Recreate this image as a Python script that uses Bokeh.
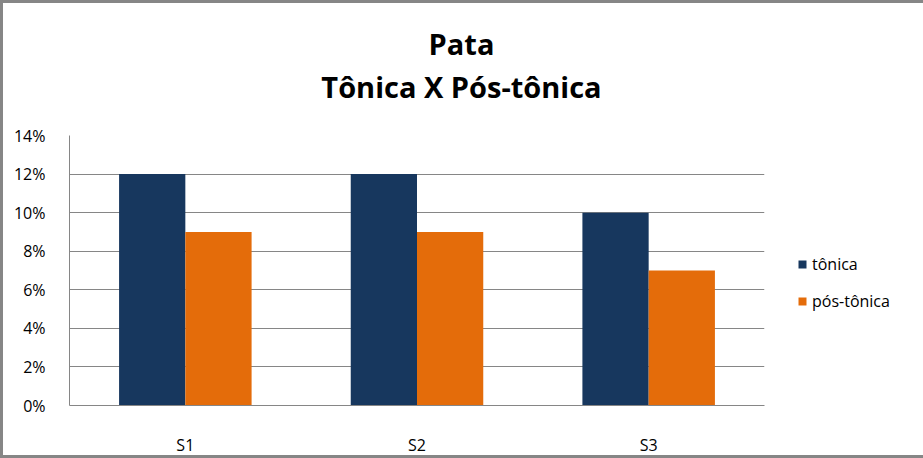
from bokeh.plotting import figure
from bokeh.layouts import column
from bokeh.models import ColumnDataSource, Legend, LegendItem, Div, NumeralTickFormatter, FixedTicker, Range1d
from bokeh.transform import dodge
from bokeh.embed import file_html
from bokeh.resources import INLINE

categories = ["S1", "S2", "S3"]
tonica = [0.12, 0.12, 0.10]
pos_tonica = [0.09, 0.09, 0.07]
series_names = ["tônica", "pós-tônica"]
y_ticks = [0, 0.02, 0.04, 0.06, 0.08, 0.10, 0.12, 0.14]
title_lines = ["Pata", "Tônica X Pós-tônica"]

FONT = "Open Sans"
TITLE_H = 110
source = ColumnDataSource(dict(cat=categories, tonica=tonica, pos=pos_tonica))

title_html = ('<div style="padding-top:22px;width:923px;text-align:center;font-family:\'Open Sans\';'
              'font-weight:bold;font-size:29px;line-height:43px;color:#000000;">'
              + "<br>".join(title_lines) + "</div>")
title = Div(text=title_html, width=923, height=TITLE_H, margin=0)

p = figure(frame_width=695, frame_height=270, x_range=categories, y_range=Range1d(0, 0.14),
           output_backend="svg", toolbar_location=None, title=None,
           min_border_left=69, min_border_right=159, min_border_top=135 - TITLE_H,
           min_border_bottom=53, margin=0)
p.outline_line_color = None
p.border_fill_color = None
p.x_range.range_padding = 0

r1 = p.vbar(x=dodge("cat", -0.143, range=p.x_range), top="tonica", width=0.286,
            source=source, fill_color="#17375E", line_color=None)
r2 = p.vbar(x=dodge("cat", 0.143, range=p.x_range), top="pos", width=0.286,
            source=source, fill_color="#E46C0A", line_color=None)

p.yaxis.ticker = FixedTicker(ticks=y_ticks)
p.yaxis.formatter = NumeralTickFormatter(format="0%")
p.ygrid.ticker = FixedTicker(ticks=y_ticks)
p.ygrid.grid_line_color = "#868686"
p.xgrid.grid_line_color = None
for ax in (p.xaxis, p.yaxis):
    ax.axis_line_color = "#868686"
    ax.major_tick_line_color = None
    ax.minor_tick_line_color = None
    ax.major_label_text_font = FONT
    ax.major_label_text_font_size = "16px"
    ax.major_label_text_color = "#000000"
p.yaxis.major_label_standoff = 18
p.xaxis.major_label_standoff = 22

legend = Legend(items=[LegendItem(label=series_names[0], renderers=[r1]),
                       LegendItem(label=series_names[1], renderers=[r2])],
                location=(33, 93), glyph_width=10, glyph_height=10,
                label_text_font=FONT, label_text_font_size="16px", label_text_color="#000000",
                spacing=15, border_line_color=None, background_fill_alpha=0,
                padding=0, margin=0, label_standoff=5)
p.add_layout(legend, "right")

layout = column(title, p, spacing=0, margin=0,
                styles={"outline": "3px solid #868686", "outline-offset": "-3px",
                        "background-color": "#ffffff"})

open("out.html", "w").write(file_html(layout, INLINE))
